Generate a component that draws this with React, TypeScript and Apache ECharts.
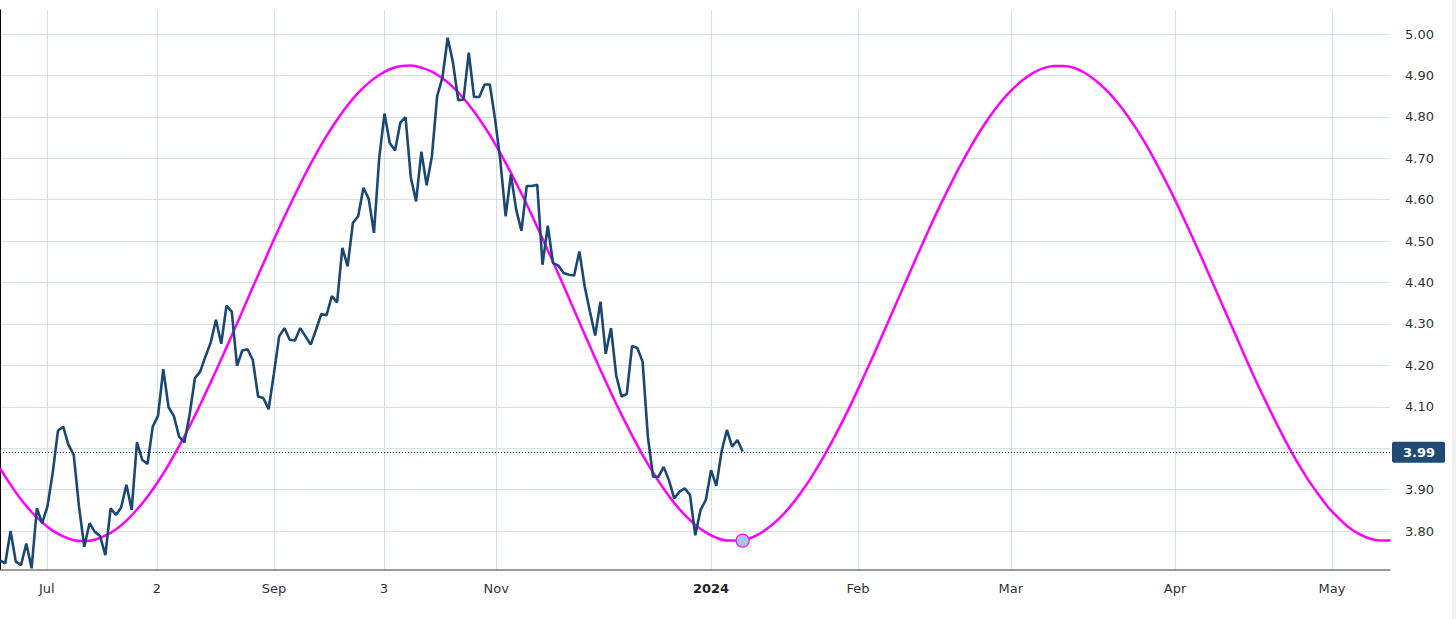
import React, { useEffect, useRef } from "react";
import * as echarts from "echarts";

// Daily yield closes, one per trading session (index 0 = left edge)
const priceValues = [
  3.729, 3.722, 3.800, 3.726, 3.718, 3.770, 3.710, 3.855, 3.819, 3.859, 3.940, 4.042,
  4.052, 4.008, 3.984, 3.859, 3.762, 3.819, 3.798, 3.788, 3.742, 3.855, 3.839, 3.857,
  3.912, 3.851, 4.014, 3.972, 3.962, 4.052, 4.078, 4.191, 4.099, 4.078, 4.028, 4.014,
  4.081, 4.169, 4.185, 4.221, 4.255, 4.310, 4.252, 4.344, 4.330, 4.199, 4.236, 4.239,
  4.213, 4.125, 4.121, 4.094, 4.180, 4.270, 4.290, 4.262, 4.260, 4.290, 4.270, 4.250,
  4.286, 4.324, 4.321, 4.367, 4.352, 4.484, 4.439, 4.544, 4.560, 4.629, 4.602, 4.520,
  4.701, 4.808, 4.737, 4.719, 4.786, 4.799, 4.653, 4.596, 4.716, 4.635, 4.705, 4.850,
  4.895, 4.991, 4.931, 4.840, 4.842, 4.955, 4.848, 4.848, 4.878, 4.878, 4.794, 4.693,
  4.560, 4.661, 4.576, 4.525, 4.633, 4.633, 4.636, 4.443, 4.537, 4.447, 4.441, 4.423,
  4.419, 4.417, 4.475, 4.391, 4.330, 4.272, 4.354, 4.228, 4.290, 4.175, 4.125, 4.131,
  4.247, 4.242, 4.209, 4.028, 3.931, 3.931, 3.955, 3.923, 3.879, 3.895, 3.903, 3.887,
  3.790, 3.851, 3.875, 3.947, 3.909, 3.992, 4.044, 4.004, 4.020, 3.992,
];

// Cycle projection, sampled every 2 sessions
const cycleStep = 2;
const cycleValues = [
  3.952, 3.912, 3.876, 3.846, 3.821, 3.801, 3.787, 3.778, 3.776, 3.779,
  3.789, 3.804, 3.825, 3.852, 3.883, 3.919, 3.960, 4.005, 4.053, 4.105,
  4.159, 4.215, 4.272, 4.330, 4.389, 4.446, 4.504, 4.559, 4.612, 4.663,
  4.710, 4.754, 4.793, 4.828, 4.858, 4.882, 4.901, 4.915, 4.922, 4.924,
  4.919, 4.909, 4.893, 4.872, 4.845, 4.813, 4.776, 4.735, 4.689, 4.640,
  4.589, 4.534, 4.478, 4.421, 4.363, 4.304, 4.246, 4.189, 4.134, 4.081,
  4.031, 3.984, 3.941, 3.902, 3.868, 3.839, 3.815, 3.797, 3.784, 3.777,
  3.777, 3.781, 3.792, 3.809, 3.831, 3.859, 3.892, 3.929, 3.971, 4.017,
  4.066, 4.118, 4.173, 4.229, 4.287, 4.345, 4.403, 4.461, 4.518, 4.573,
  4.625, 4.675, 4.721, 4.764, 4.802, 4.836, 4.864, 4.887, 4.905, 4.917,
  4.923, 4.923, 4.918, 4.906, 4.888, 4.865, 4.837, 4.804, 4.766, 4.724,
  4.677, 4.628, 4.575, 4.520, 4.464, 4.406, 4.348, 4.290, 4.232, 4.175,
  4.121, 4.069, 4.019, 3.973, 3.931, 3.894, 3.860, 3.833, 3.810, 3.793,
  3.782, 3.777, 3.777,
];

const tickPositions = [8.9, 29.8, 52.0, 72.9, 94.2, 135.0, 162.9, 191.9, 223.1, 252.9];
const tickLabels = ["Jul", "2", "Sep", "3", "Nov", "2024", "Feb", "Mar", "Apr", "May"];
const boldLabels = ["2024"];

const yGridValues = [3.8, 3.9, 4.0, 4.1, 4.2, 4.3, 4.4, 4.5, 4.6, 4.7, 4.8, 4.9, 5.0];
const yLabelValues = [3.8, 3.9, 4.1, 4.2, 4.3, 4.4, 4.5, 4.6, 4.7, 4.8, 4.9, 5.0];

const lastValue = 3.99;
const markerIndex = 141;
const markerValue = 3.777;

const xMin = 0;
const xMax = 263.9;
const yMin = 3.706;
const yMax = 5.058;

export default function App() {
  const ref = useRef<HTMLDivElement>(null);

  useEffect(() => {
    if (!ref.current) return;
    const chart = echarts.init(ref.current, null, { renderer: "svg" });
    const font = "'DejaVu Sans', Verdana, sans-serif";
    const gridColor = "#d3e0ed";

    const option: any = {
      animation: false,
      backgroundColor: "#ffffff",
      grid: { left: 0, right: 66, top: 10, bottom: 49, containLabel: false },
      graphic: [
        {
          type: "rect",
          left: 1452,
          top: 0,
          shape: { width: 4, height: 619 },
          style: { fill: "#f0f0f0" },
          silent: true,
        },
      ],
      xAxis: {
        type: "value",
        min: xMin,
        max: xMax,
        axisLine: { show: true, onZero: false, lineStyle: { color: "#7a7a86", width: 1.5 } },
        axisTick: { show: false, customValues: tickPositions },
        splitLine: { show: true, lineStyle: { color: gridColor, width: 1 } },
        axisLabel: {
          customValues: tickPositions,
          margin: 12,
          color: "#333",
          fontFamily: font,
          fontSize: 13,
          formatter: (val: number) => {
            let k = 0;
            let best = Infinity;
            tickPositions.forEach((p, i) => {
              const d = Math.abs(p - val);
              if (d < best) {
                best = d;
                k = i;
              }
            });
            const t = tickLabels[k];
            return boldLabels.includes(t) ? "{b|" + t + "}" : t;
          },
          rich: {
            b: { fontWeight: "bold", fontFamily: font, fontSize: 13, color: "#222" },
          },
        },
      },
      yAxis: {
        type: "value",
        position: "right",
        min: yMin,
        max: yMax,
        axisLine: { show: true, lineStyle: { color: "#000", width: 1 } },
        axisTick: { show: false, customValues: yGridValues },
        splitLine: { show: true, lineStyle: { color: gridColor, width: 1 } },
        axisLabel: {
          customValues: yLabelValues,
          margin: 15,
          color: "#333",
          fontFamily: font,
          fontSize: 13,
          formatter: (v: number) => v.toFixed(2),
        },
      },
      series: [
        {
          type: "line",
          name: "Cycle",
          data: cycleValues.map((v, i) => [i * cycleStep, v]),
          smooth: 0.3,
          showSymbol: false,
          lineStyle: { color: "#ff00ff", width: 2.5 },
          z: 2,
        },
        {
          type: "line",
          name: "Yield",
          data: priceValues.map((v, i) => [i, v]),
          showSymbol: false,
          lineStyle: { color: "#1b4872", width: 2.6 },
          z: 3,
          markLine: {
            silent: true,
            symbol: ["none", "none"],
            lineStyle: { color: "#333", type: [1, 2], width: 1 },
            label: {
              show: true,
              position: "end",
              distance: 2,
              formatter: () => lastValue.toFixed(2),
              backgroundColor: "#1e4a73",
              color: "#fff",
              fontWeight: "bold",
              fontFamily: font,
              fontSize: 13,
              lineHeight: 15,
              padding: [3, 10, 3, 11],
              borderRadius: 2,
            },
            data: [{ yAxis: lastValue }],
          },
        },
        {
          type: "scatter",
          name: "Marker",
          data: [[markerIndex, markerValue]],
          symbolSize: 13,
          itemStyle: { color: "#aac4e8", borderColor: "#ff00ff", borderWidth: 1.2, opacity: 1 },
          z: 4,
        },
      ],
    };

    chart.setOption(option);
    return () => chart.dispose();
  }, []);

  return (
    <div
      ref={ref}
      style={{ position: "fixed", left: 0, top: 0, width: 1456, height: 619, background: "#fff" }}
    />
  );
}
